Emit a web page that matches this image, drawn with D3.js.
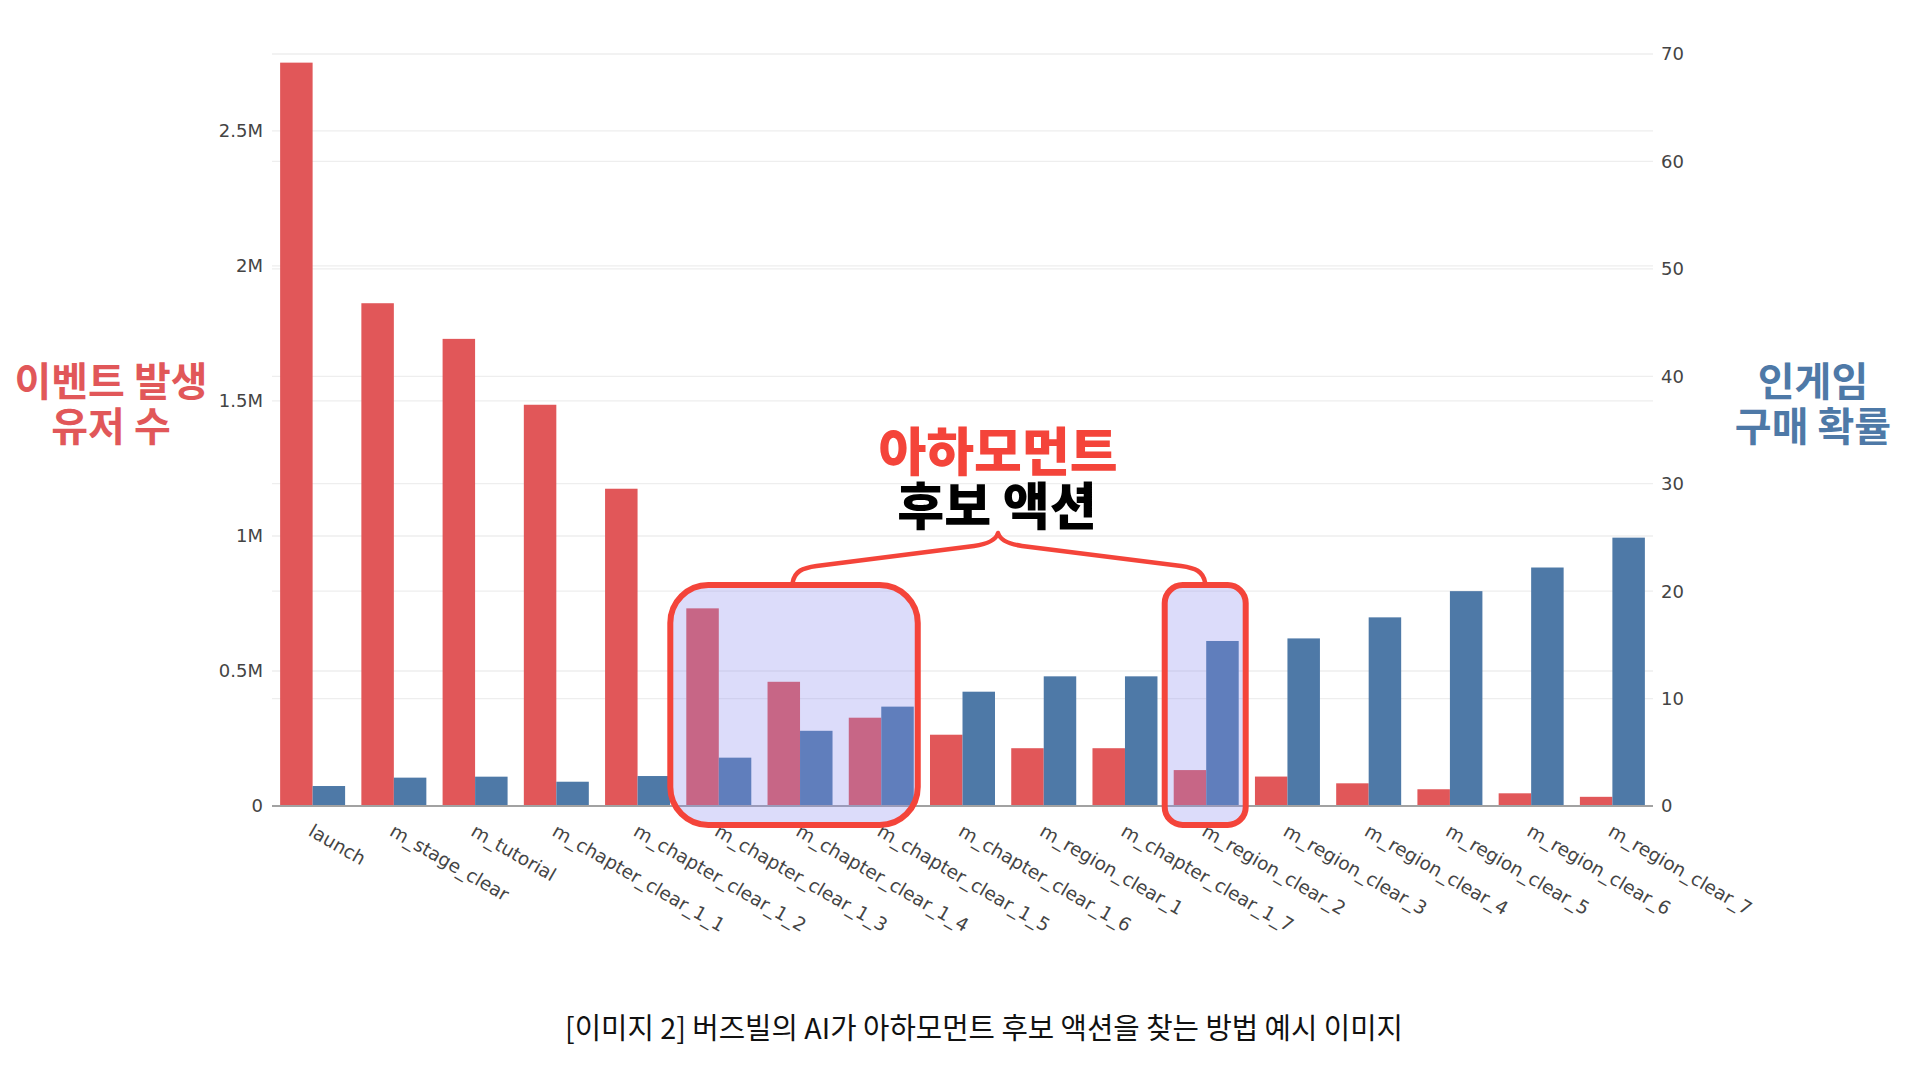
<!DOCTYPE html>
<html>
<head>
<meta charset="utf-8">
<script src="https://cdn.jsdelivr.net/npm/d3@7"></script>
<style>
  html, body { margin: 0; padding: 0; background: #ffffff; }
  svg { display: block; }
</style>
</head>
<body>
<script>
// ---------------- DATA ----------------
const categories = [
  "launch", "m_stage_clear", "m_tutorial",
  "m_chapter_clear_1_1", "m_chapter_clear_1_2", "m_chapter_clear_1_3",
  "m_chapter_clear_1_4", "m_chapter_clear_1_5", "m_chapter_clear_1_6",
  "m_region_clear_1", "m_chapter_clear_1_7", "m_region_clear_2",
  "m_region_clear_3", "m_region_clear_4", "m_region_clear_5",
  "m_region_clear_6", "m_region_clear_7"
];
// 이벤트 발생 유저 수 (left axis)
const eventUsers = [2753000, 1862000, 1730000, 1486000, 1175000, 732000, 460000, 327000,
  264000, 214000, 214000, 133000, 109000, 84000, 62000, 47000, 34000];
// 인게임 구매 확률 (right axis)
const purchaseRate = [1.86, 2.64, 2.73, 2.26, 2.79, 4.5, 7.0, 9.25,
  10.64, 12.07, 12.07, 15.36, 15.6, 17.56, 20.0, 22.2, 24.98];

const leftTicks = [0, 500000, 1000000, 1500000, 2000000, 2500000];
const leftTickLabels = ["0", "0.5M", "1M", "1.5M", "2M", "2.5M"];
const rightTicks = [0, 10, 20, 30, 40, 50, 60, 70];

const leftTitle = ["이벤트 발생", "유저 수"];
const rightTitle = ["인게임", "구매 확률"];
const annoTitle = ["아하모먼트", "후보 액션"];
const caption = "[이미지 2] 버즈빌의 AI가 아하모먼트 후보 액션을 찾는 방법 예시 이미지";
// highlighted category ranges (first, last index)
const highlightGroups = [[5, 7], [11, 11]];

// ---------------- LAYOUT ----------------
const W = 1920, H = 1083;
const plot = { left: 272, right: 1653, top: 54, bottom: 806 };
const RED = "#E15759", BLUE = "#4E79A7", ACCENT = "#F4443A";
const tickFont = "'DejaVu Sans', Verdana, sans-serif";
const krFont = "'Noto Sans CJK KR', 'Noto Sans', sans-serif";

const svg = d3.select("body").append("svg").attr("width", W).attr("height", H);
svg.append("rect").attr("width", W).attr("height", H).attr("fill", "#fff");

const x = d3.scaleBand().domain(categories).range([plot.left, plot.right])
  .paddingInner(0.2).paddingOuter(0.1);
const xSub = d3.scaleBand().domain(["users", "rate"]).range([0, x.bandwidth()]);
const yL = d3.scaleLinear().domain([0, 2785000]).range([plot.bottom, plot.top]);
const yR = d3.scaleLinear().domain([0, 70]).range([plot.bottom, plot.top]);

// gridlines
const grid = svg.append("g");
grid.selectAll(".gl").data(leftTicks.filter(d => d > 0)).join("line")
  .attr("x1", plot.left).attr("x2", plot.right)
  .attr("y1", d => yL(d)).attr("y2", d => yL(d))
  .attr("stroke", "#eeeeee").attr("stroke-width", 1.3);
grid.selectAll(".gr").data(rightTicks.filter(d => d > 0)).join("line")
  .attr("x1", plot.left).attr("x2", plot.right)
  .attr("y1", d => yR(d)).attr("y2", d => yR(d))
  .attr("stroke", "#eeeeee").attr("stroke-width", 1.3);

// bars
const bars = svg.append("g");
bars.selectAll(".bu").data(categories).join("rect")
  .attr("x", d => x(d) + xSub("users"))
  .attr("width", xSub.bandwidth())
  .attr("y", (d, i) => yL(eventUsers[i]))
  .attr("height", (d, i) => plot.bottom - yL(eventUsers[i]))
  .attr("fill", RED);
bars.selectAll(".br").data(categories).join("rect")
  .attr("x", d => x(d) + xSub("rate"))
  .attr("width", xSub.bandwidth())
  .attr("y", (d, i) => yR(purchaseRate[i]))
  .attr("height", (d, i) => plot.bottom - yR(purchaseRate[i]))
  .attr("fill", BLUE);

// baseline
svg.append("line").attr("x1", plot.left).attr("x2", plot.right)
  .attr("y1", plot.bottom).attr("y2", plot.bottom)
  .attr("stroke", "#a2a2a2").attr("stroke-width", 2);

// left axis labels
svg.append("g").selectAll("text").data(leftTicks).join("text")
  .attr("x", 263).attr("y", d => yL(d)).attr("dy", "0.36em")
  .attr("text-anchor", "end").attr("font-family", tickFont).attr("font-size", 18)
  .attr("fill", "#444").text((d, i) => leftTickLabels[i]);
// right axis labels
svg.append("g").selectAll("text").data(rightTicks).join("text")
  .attr("x", 1661).attr("y", d => yR(d)).attr("dy", "0.36em")
  .attr("text-anchor", "start").attr("font-family", tickFont).attr("font-size", 18)
  .attr("fill", "#444").text(d => d);

// x labels (rotated)
svg.append("g").selectAll("text").data(categories).join("text")
  .attr("transform", d => `translate(${x(d) + x.bandwidth() / 2 - 2},${plot.bottom + 23}) rotate(30)`)
  .attr("dy", "0.36em").attr("text-anchor", "start")
  .attr("font-family", tickFont).attr("font-size", 18.5).attr("fill", "#444")
  .text(d => d);

// highlight boxes
const boxTop = 585, boxBottom = 825;
const boxPad = [{ l: 16, r: 4, rad: 38 }, { l: 9, r: 7, rad: 18 }];
const boxes = svg.append("g");
highlightGroups.forEach((g, k) => {
  const x0 = x(categories[g[0]]) - boxPad[k].l;
  const x1 = x(categories[g[1]]) + x.bandwidth() + boxPad[k].r;
  boxes.append("rect")
    .attr("x", x0).attr("y", boxTop).attr("width", x1 - x0).attr("height", boxBottom - boxTop)
    .attr("rx", boxPad[k].rad).attr("ry", boxPad[k].rad)
    .attr("fill", "rgb(140,140,240)").attr("fill-opacity", 0.3)
    .attr("stroke", ACCENT).attr("stroke-width", 6);
});

// curly brace linking the boxes
const bL = x(categories[6]) + 25;                 // left end
const bR = x(categories[11]) + x.bandwidth() / 2 - 1; // right end
const bM = 998;                                   // peak x
const yEnd = boxTop - 2, yArm = 567, yNear = 545, yPeak = 533;
const brace = `M${bL},${yEnd} C${bL + 2},${yArm + 4} ${bL + 10},${yArm + 1} ${bL + 24},${yArm - 1}
  L${bM - 24},${yNear + 1} C${bM - 10},${yNear - 1} ${bM - 2},${yNear - 5} ${bM},${yPeak}
  C${bM + 2},${yNear - 5} ${bM + 10},${yNear - 1} ${bM + 24},${yNear + 1}
  L${bR - 24},${yArm - 1} C${bR - 10},${yArm + 1} ${bR - 2},${yArm + 4} ${bR},${yEnd}`;
svg.append("path").attr("d", brace).attr("fill", "none")
  .attr("stroke", ACCENT).attr("stroke-width", 4.5).attr("stroke-linecap", "round")
  .attr("stroke-linejoin", "round");

// annotation title
svg.append("text").attr("x", 998).attr("y", 448).attr("dominant-baseline", "central")
  .attr("text-anchor", "middle").attr("font-family", krFont).attr("font-weight", 900)
  .attr("font-size", 52).attr("fill", ACCENT).text(annoTitle[0]);
svg.append("text").attr("x", 997).attr("y", 503).attr("dominant-baseline", "central")
  .attr("text-anchor", "middle").attr("font-family", krFont).attr("font-weight", 900)
  .attr("font-size", 51).attr("fill", "#000").text(annoTitle[1]);

// axis titles
leftTitle.forEach((t, i) => {
  svg.append("text").attr("x", 111).attr("y", 379 + i * 45).attr("dominant-baseline", "central")
    .attr("text-anchor", "middle").attr("font-family", krFont).attr("font-weight", 700)
    .attr("font-size", 40).attr("fill", RED).text(t);
});
rightTitle.forEach((t, i) => {
  svg.append("text").attr("x", 1813).attr("y", 379 + i * 45).attr("dominant-baseline", "central")
    .attr("text-anchor", "middle").attr("font-family", krFont).attr("font-weight", 700)
    .attr("font-size", 40).attr("fill", BLUE).text(t);
});

// caption
svg.append("text").attr("x", 984).attr("y", 1026).attr("dominant-baseline", "central")
  .attr("text-anchor", "middle").attr("font-family", krFont).attr("font-weight", 400)
  .attr("font-size", 29).attr("fill", "#111")
  .attr("textLength", 838).attr("lengthAdjust", "spacingAndGlyphs")
  .text(caption);
</script>
</body>
</html>
